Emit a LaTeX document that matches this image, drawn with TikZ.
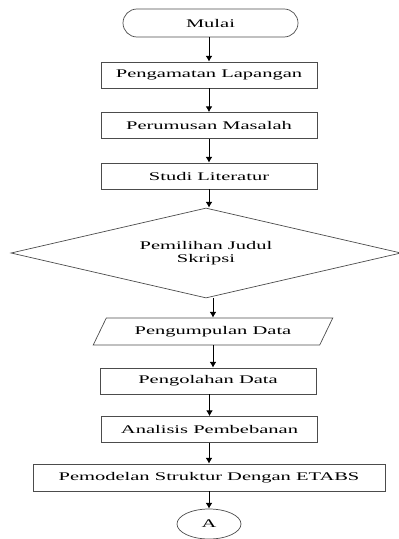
\documentclass[tikz,border=0pt]{standalone}
\usepackage{fontspec}
\setmainfont{Liberation Serif}[FakeStretch=1.75]
\usetikzlibrary{arrows.meta,shapes.geometric,shapes.misc}

\begin{document}
\begin{tikzpicture}[x=0.03cm,y=-0.03cm,>={Latex[length=1.7mm,width=2mm]},
  box/.style={draw=black!70,line width=.6pt,inner sep=0pt,align=center,minimum width=6.48cm,minimum height=.78cm,font=\fontsize{10}{11}\selectfont},
  flow/.style={->,line width=.8pt,draw=black}]
\useasboundingbox (0,0) rectangle (399,539);
\node[box,rounded rectangle,minimum width=5.25cm,minimum height=.84cm] (mulai) at (210.5,23) {Mulai};
\node[box] (amat) at (209,75) {Pengamatan Lapangan};
\node[box] (rumus) at (209,125.5) {Perumusan Masalah};
\node[box] (studi) at (209,176) {Studi Literatur};
\node[box,diamond,shape aspect=4.3,minimum width=11.7cm,minimum height=2.7cm] (judul) at (206,253) {Pemilihan Judul\\Skripsi};
\node[box,trapezium,trapezium left angle=48,trapezium right angle=132,trapezium stretches=true,minimum width=7.2cm,minimum height=.81cm] (kumpul) at (213,331.5) {Pengumpulan Data};
\node[box] (olah) at (208,381) {Pengolahan Data};
\node[box] (beban) at (209.5,429.5) {Analisis Pembebanan};
\node[box,minimum width=10.56cm,minimum height=.81cm] (model) at (209,477.5) {Pemodelan Struktur Dengan ETABS};
\node[box,ellipse,minimum width=1.92cm,minimum height=.9cm] (a) at (209,524) {A};
\draw[flow] (mulai.south -| amat) -- (amat);
\draw[flow] (amat) -- (rumus);
\draw[flow] (rumus) -- (studi);
\draw[flow] (studi.south) -- (studi.south |- judul.north);
\draw[flow] (kumpul.north |- judul.south) -- (kumpul.north);
\draw[flow] (kumpul.south) -- (kumpul.south |- olah.north);
\draw[flow] (olah.south -| beban) -- (beban);
\draw[flow] (beban.south -| model) -- (model);
\draw[flow] (model) -- (a);
\end{tikzpicture}
\end{document}
